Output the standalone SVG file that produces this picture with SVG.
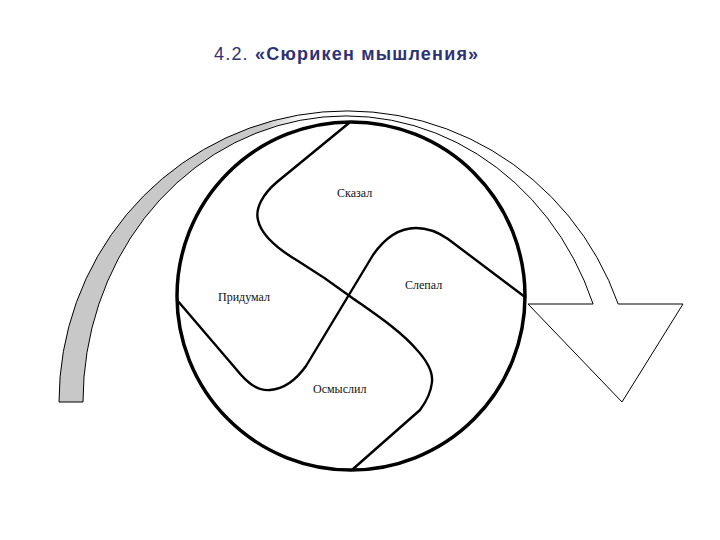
<svg xmlns="http://www.w3.org/2000/svg" width="720" height="540" viewBox="0 0 720 540">
<style>
.title{font-family:"Liberation Sans",Arial,sans-serif;font-size:18px;letter-spacing:1.2px;fill:#2e3174}
.lbl{font-family:"Liberation Serif","Times New Roman",serif;font-size:12px;fill:#111}
.arrow{stroke:#000;stroke-width:1;stroke-linejoin:miter}
.ring{fill:none;stroke:#000;stroke-width:3.5}
.blade{fill:none;stroke:#000;stroke-width:2.4;stroke-linecap:round;stroke-linejoin:round}
</style>
<defs>
<linearGradient id="arrowFill" gradientUnits="userSpaceOnUse" x1="60" y1="0" x2="683" y2="0">
<stop offset="0" stop-color="#c8c8c8"/>
<stop offset="0.33" stop-color="#c8c8c8"/>
<stop offset="0.39" stop-color="#ffffff"/>
<stop offset="1" stop-color="#ffffff"/>
</linearGradient>
</defs>
<rect width="720" height="540" fill="#fff"/>
<g id="title">
<text class="title" x="214" y="60">4.2. <tspan font-weight="bold">«Сюрикен мышления»</tspan></text>
</g>
<g id="arrow">
<path class="arrow" fill="url(#arrowFill)" d="M59,402 A288,291 0 0 1 618.2,304 L683,304 L622,402 L528,304 L593.1,304 A263,286 0 0 0 83,402 Z"/>
</g>
<g id="circle">
<circle class="ring" cx="351" cy="296" r="174"/>
</g>
<g id="connectors">
<path class="blade" d="M349,123 L277,182 C263,194 255,208 258,220 C261,234 276,248 298,261 C316,272 335,285 351,297 C372,312 400,330 417,350 C428,362 433,372 432,382 C431,392 426,402 420,410 L353,469"/>
<path class="blade" d="M177,300 L236,369 C248,384 258,391 270,390 C284,389 296,380 306,366 L373,255 C382,242 396,228 416,228 C428,228 438,232 448,239 L525,297"/>
</g>
<g id="label-skazal"><text class="lbl" x="337" y="197">Сказал</text></g>
<g id="label-slepal"><text class="lbl" x="405" y="289">Слепал</text></g>
<g id="label-pridumal"><text class="lbl" x="218" y="301">Придумал</text></g>
<g id="label-osmyslil"><text class="lbl" x="313" y="393">Осмыслил</text></g>
</svg>
